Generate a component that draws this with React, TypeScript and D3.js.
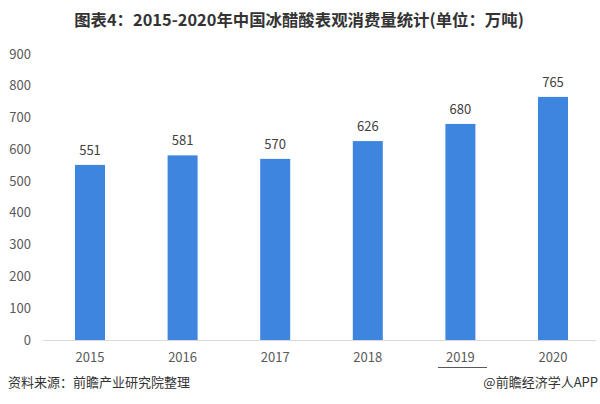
import React from "react";
import * as d3 from "d3";

const years = ["2015", "2016", "2017", "2018", "2019", "2020"];
const values = [551, 581, 570, 626, 680, 765];
const yTicks = [0, 100, 200, 300, 400, 500, 600, 700, 800, 900];

const W = 600;
const H = 404;
const FONT = "'Noto Sans CJK SC', 'Noto Sans', sans-serif";

export default function App() {
  const x = d3.scaleBand<string>().domain(years).range([43.7, 599.3]).paddingInner(0.676).paddingOuter(0.338);
  const y = d3.scaleLinear().domain([0, 900]).range([340, 54]);
  return (
    <svg width={W} height={H} style={{ position: "absolute", left: 0, top: 0, background: "#fff" }}>
      <text x={299} y={26} textAnchor="middle" fontFamily={FONT} fontWeight="bold" fontSize={16.4} fill="#333">
        图表4：2015-2020年中国冰醋酸表观消费量统计(单位：万吨)
      </text>
      {yTicks.map((t) => (
        <text key={t} x={31} y={y(t) + 4.5} textAnchor="end" fontFamily={FONT} fontSize={13} fill="#595959">
          {t}
        </text>
      ))}
      <line x1={43} x2={596} y1={340.5} y2={340.5} stroke="#d9d9d9" strokeWidth={1} />
      {years.map((yr, i) => (
        <g key={yr}>
          <rect x={x(yr)} y={y(values[i])} width={x.bandwidth()} height={y(0) - y(values[i])} fill="#3e85e0" />
          <text x={(x(yr) as number) + x.bandwidth() / 2} y={y(values[i]) - 10} textAnchor="middle" fontFamily={FONT} fontSize={13} fill="#404040">
            {values[i]}
          </text>
          <text x={(x(yr) as number) + x.bandwidth() / 2} y={362} textAnchor="middle" fontFamily={FONT} fontSize={13} fill="#595959">
            {yr}
          </text>
        </g>
      ))}
      <line x1={438} x2={487} y1={367.5} y2={367.5} stroke="#595959" strokeWidth={1} />
      <text x={8} y={387} fontFamily={FONT} fontSize={13} fill="#333">资料来源：前瞻产业研究院整理</text>
      <text x={598} y={387} textAnchor="end" fontFamily={FONT} fontSize={13} fill="#333">@前瞻经济学人APP</text>
    </svg>
  );
}
